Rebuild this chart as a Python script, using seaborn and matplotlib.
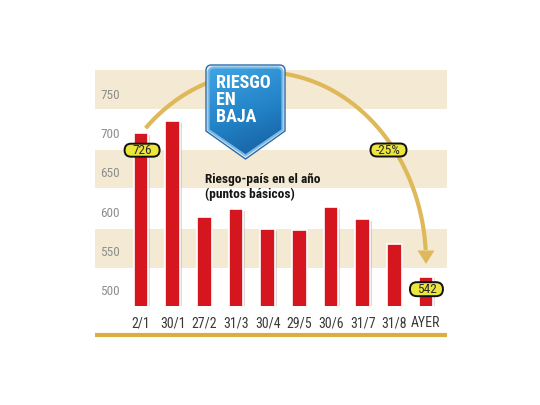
import numpy as np
import pandas as pd
import matplotlib
matplotlib.use('Agg')
import matplotlib.pyplot as plt
import seaborn as sns
from matplotlib.patches import Polygon, FancyBboxPatch
from matplotlib.colors import LinearSegmentedColormap
from matplotlib import patheffects as pe

# ---------------- data ----------------
fechas = ['2/1', '30/1', '27/2', '31/3', '30/4', '29/5', '30/6', '31/7', '31/8', 'AYER']
riesgo = [700, 715, 593, 603, 578, 576, 606, 590, 559, 517]
etiqueta_inicio = '726'
etiqueta_fin = '542'
variacion = '-25%'
yticks = [500, 550, 600, 650, 700, 750]
bandas = [(528, 578), (630, 679), (731, 781)]
titulo = 'Riesgo-país en el año\n(puntos básicos)'
escudo = 'RIESGO\nEN\nBAJA'

# ---------------- style ----------------
sns.set_theme(style='white')
FAM = ['Roboto Condensed', 'Archivo Narrow', 'PT Sans Narrow', 'Liberation Sans', 'DejaVu Sans']
plt.rcParams['font.family'] = FAM

RED = '#d5161e'
BAND = '#f4ead3'
GOLD = '#dfb85a'
YEL = '#ece63a'

W, H = 540, 405
fig = plt.figure(figsize=(W / 100, H / 100), dpi=100)
fig.patch.set_facecolor('white')

ax = fig.add_axes([95 / W, 99 / H, 352 / W, 244 / H])
df = pd.DataFrame({'fecha': fechas, 'riesgo': riesgo})
for lo, hi in bandas:
    ax.axhspan(lo, hi, color=BAND, zorder=0, lw=0)
sns.barplot(data=df, x='fecha', y='riesgo', color=RED, saturation=1,
            width=0.46, ax=ax, zorder=2, edgecolor='white', linewidth=1.2)
for p in ax.containers[0]:
    p.set_path_effects([pe.SimplePatchShadow(offset=(1.2, -1.2), shadow_rgbFace='#9a9a9a', alpha=0.35),
                        pe.Normal()])
ax.set_xlim(-1.456, 9.665)
ax.set_ylim(479.6, 790.8)
ax.set_yticks(yticks)
ax.set_yticklabels([str(v) for v in yticks])
ax.tick_params(axis='y', length=0, pad=-3.6, labelcolor='#8e8e8e', labelsize=9.5)
for t in ax.get_yticklabels():
    t.set_ha('left')
ax.tick_params(axis='x', length=0, pad=7.4, labelcolor='#3a3a3a', labelsize=10)
ax.set_xlabel('')
ax.set_ylabel('')
for s in ax.spines.values():
    s.set_visible(False)
ax.set_facecolor('white')
ax.plot([0, 1], [-0.117, -0.117], transform=ax.transAxes, clip_on=False,
        color='#dbae42', lw=3, solid_capstyle='butt')

# ---------------- overlay (decoration, pixel coords) ----------------
ov = fig.add_axes([0, 0, 1, 1], zorder=5)
ov.set_xlim(0, W)
ov.set_ylim(H, 0)
ov.axis('off')
ov.patch.set_alpha(0)

def to_px(x, y):
    d = ax.transData.transform((x, y))
    return d[0], H - d[1]

# arc with arrow
th = np.linspace(np.deg2rad(135.2), np.deg2rad(3.6), 300)
ov.plot(262 + 164 * np.cos(th), 262 - 190 * np.sin(th), color=GOLD, lw=3,
        solid_capstyle='butt', zorder=1)
ov.add_patch(Polygon([(417.5, 250.5), (434.5, 250.5), (426, 264)], closed=True,
                     facecolor=GOLD, edgecolor='none', zorder=1))

# shield
def shield_pts(l, r, t, sb, tip, rad=5):
    pts = [(l, sb), (l, t + rad)]
    a = np.linspace(np.pi, 1.5 * np.pi, 8)
    pts += [(l + rad + rad * np.cos(x), t + rad + rad * np.sin(x)) for x in a]
    a = np.linspace(1.5 * np.pi, 2 * np.pi, 8)
    pts += [(r - rad + rad * np.cos(x), t + rad + rad * np.sin(x)) for x in a]
    pts += [(r, sb), ((l + r) / 2, tip)]
    return pts

outer = Polygon(shield_pts(206, 285, 65, 131, 159), closed=True, facecolor='#e9f3fb',
                edgecolor='#2c6aa3', lw=1.0, zorder=3)
ov.add_patch(outer)
inner = Polygon(shield_pts(208.5, 282.5, 67.5, 130, 155.5), closed=True, facecolor='none',
                edgecolor='#7cbbe8', lw=1.6, zorder=5)
yy, xx = np.mgrid[0:1:100j, 0:1:100j]
grad = 0.75 * yy + 0.25 * xx
cmap = LinearSegmentedColormap.from_list('sh', ['#43a8e6', '#2384c8', '#14589a'])
im = ov.imshow(grad, extent=(206, 286, 160, 64), cmap=cmap, aspect='auto',
               origin='upper', zorder=4, interpolation='bilinear')
clip = Polygon(shield_pts(208.5, 282.5, 67.5, 130, 155.5), closed=True, transform=ov.transData)
im.set_clip_path(clip)
ov.add_patch(inner)
ov.set_xlim(0, W)
ov.set_ylim(H, 0)
ov.text(216, 73.5, escudo, color='white', fontweight='bold', fontsize=13,
        va='top', ha='left', linespacing=0.95, zorder=6, family=FAM)

# subtitle
ov.text(205, 173.5, titulo, color='#151515', fontweight='bold', fontsize=9.6,
        va='top', ha='left', linespacing=1.15, zorder=6, family=FAM)

# pills
def pill(cx, cy, w, h, txt):
    ov.add_patch(FancyBboxPatch((cx - w / 2 + h / 2, cy), w - h, 0.001,
                                boxstyle=f'round,pad={h / 2}',
                                facecolor=YEL, edgecolor='#111111', lw=1.4, zorder=7))
    ov.text(cx, cy + 0.5, txt, ha='center', va='center', fontsize=9.5, color='#2a2a2a',
            zorder=8, family=FAM)

x0, y0 = to_px(0, riesgo[0])
pill(x0 + 1, y0 + 17, 35, 13, etiqueta_inicio)
x9, y9 = to_px(len(riesgo) - 1, riesgo[-1])
pill(x9 + 0.5, y9 + 12.5, 33, 14, etiqueta_fin)
pill(388.5, 150, 36, 13, variacion)

fig.savefig('out.png', dpi=100)
